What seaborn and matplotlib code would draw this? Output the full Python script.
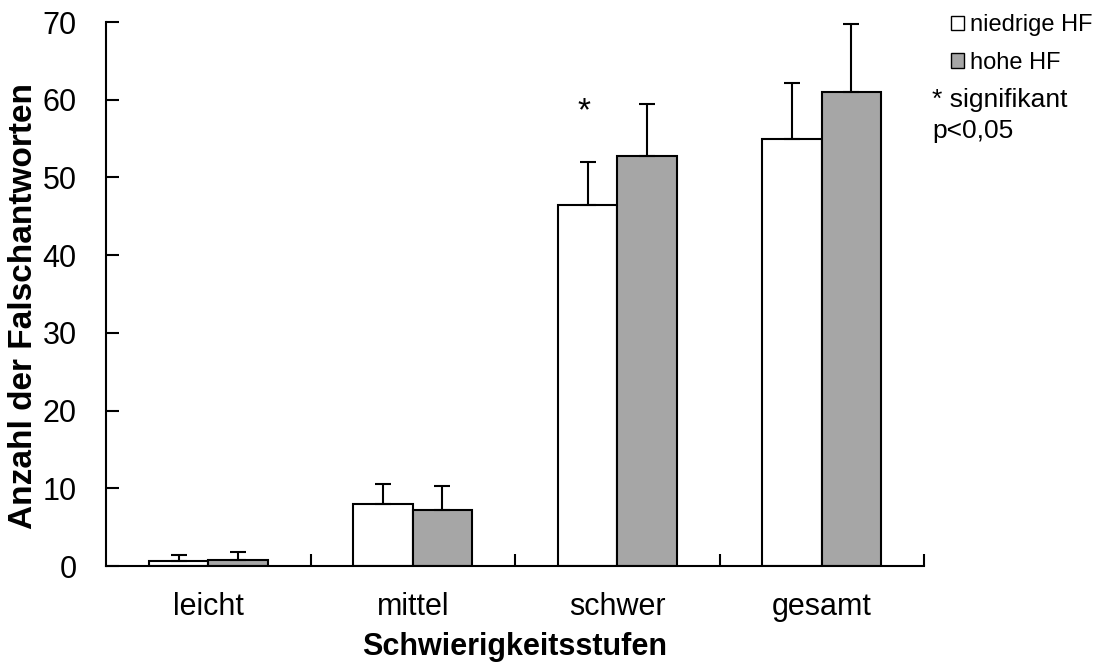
import matplotlib
matplotlib.use("Agg")
import matplotlib.pyplot as plt
import seaborn as sns
import pandas as pd
import numpy as np
from matplotlib.patches import Patch

categories = ["leicht", "mittel", "schwer", "gesamt"]
groups = ["niedrige HF", "hohe HF"]
niedrig_vals = [0.6, 8.0, 46.4, 55.0]
niedrig_err = [0.8, 2.6, 5.6, 7.2]
hoch_vals = [0.8, 7.2, 52.8, 61.0]
hoch_err = [1.0, 3.1, 6.6, 8.7]
colors = ["#ffffff", "#a6a6a6"]

sns.set_theme(style="white")
plt.rcParams["font.family"] = ["Liberation Sans", "DejaVu Sans"]
plt.rcParams["text.color"] = "black"
plt.rcParams["axes.labelcolor"] = "black"
plt.rcParams["xtick.color"] = "black"
plt.rcParams["ytick.color"] = "black"
plt.rcParams["xtick.direction"] = "in"
plt.rcParams["ytick.direction"] = "in"

df = pd.DataFrame({
    "Kategorie": categories * 2,
    "Gruppe": [groups[0]] * 4 + [groups[1]] * 4,
    "Wert": niedrig_vals + hoch_vals,
})

fig = plt.figure(figsize=(11.02, 6.65), dpi=100)
ax = fig.add_axes([106 / 1102, 1 - 566 / 665, (924 - 106) / 1102, (566 - 22) / 665])

sns.barplot(data=df, x="Kategorie", y="Wert", hue="Gruppe", order=categories,
            hue_order=groups, palette=colors, width=0.58, gap=0,
            edgecolor="black", linewidth=1.5, errorbar=None, legend=False, ax=ax)

errs = niedrig_err + hoch_err
vals = niedrig_vals + hoch_vals
for p, v, e in zip(ax.patches, vals, errs):
    xc = p.get_x() + p.get_width() / 2
    ax.errorbar([xc], [v], yerr=[[0], [e]], fmt="none", ecolor="black",
                elinewidth=1.5, capsize=6, capthick=1.5, zorder=3)

ax.set_xlim(-0.5, 3.5)
ax.set_ylim(0, 70)
ax.set_yticks(np.arange(0, 71, 10))
ax.set_xticks(range(4))
ax.set_xticklabels(categories)
ax.set_xticks([0.5, 1.5, 2.5, 3.5], minor=True)
ax.tick_params(axis="x", which="major", bottom=True, length=0, labelsize=22, pad=19)
ax.tick_params(axis="x", which="minor", bottom=True, direction="in", length=9,
               width=1.5, color="black")
ax.tick_params(axis="y", which="major", left=True, direction="in", length=9, width=1.5,
               color="black", labelsize=22, pad=21)
for s in ["top", "right"]:
    ax.spines[s].set_visible(False)
for s in ["left", "bottom"]:
    ax.spines[s].set_color("black")
    ax.spines[s].set_linewidth(1.5)

ax.set_xlabel("Schwierigkeitsstufen", fontsize=22, fontweight="bold", labelpad=7)
ax.set_ylabel("Anzahl der Falschantworten", fontsize=24, fontweight="bold", va="center")
ax.yaxis.set_label_coords((23 - 106) / 818, (566 - 306) / 544)

# significance star above schwer white bar
star_x = ax.patches[2].get_x() + ax.patches[2].get_width() / 2
ax.text(star_x - 0.02, 58.4, "*", ha="center", va="center", fontsize=24, color="black")

handles = [Patch(facecolor=colors[0], edgecolor="black", linewidth=1.0),
           Patch(facecolor=colors[1], edgecolor="black", linewidth=1.0)]
fig.legend(handles, groups, loc="upper left", bbox_to_anchor=(937 / 1102, 1.0),
           frameon=False, fontsize=17, handlelength=0.55, handleheight=0.55,
           handletextpad=0.25, labelspacing=0.66, borderpad=0.1)
fig.text(932 / 1102, 1 - 88 / 665, "* signifikant\np<0,05", fontsize=19,
         ha="left", va="top", linespacing=1.38)

fig.savefig("out.png", dpi=100)
